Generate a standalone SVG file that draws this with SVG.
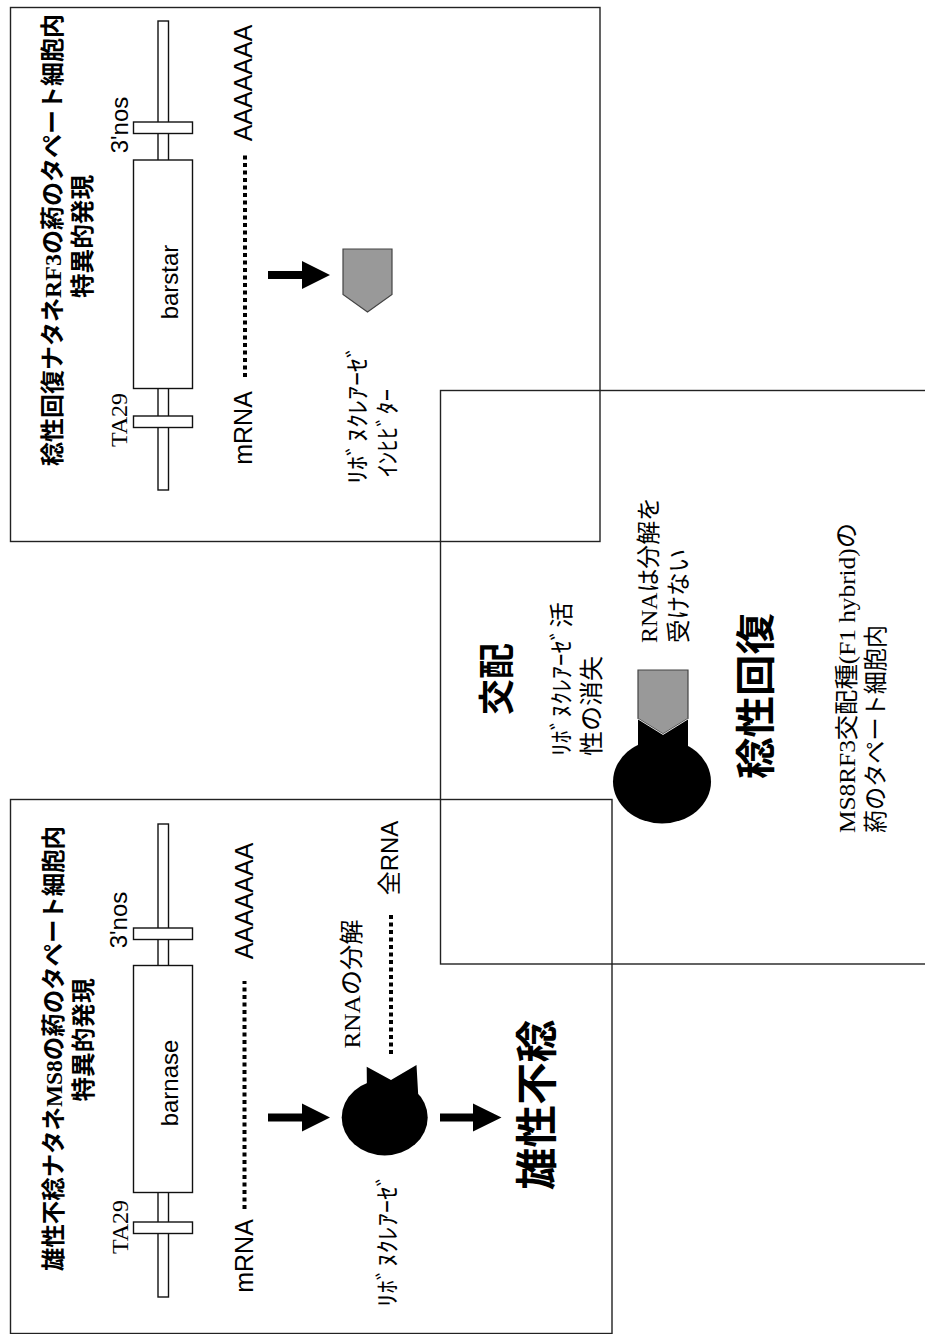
<svg xmlns="http://www.w3.org/2000/svg" width="925" height="1334" viewBox="0 0 925 1334">
<style>
.box{fill:none;stroke:#222;stroke-width:1.4}
.el{fill:#fff;stroke:#111;stroke-width:1.4}
.jp{font-family:"Noto Sans CJK JP",sans-serif;fill:#000;font-size:24px}
.sans{font-family:"Liberation Sans","Noto Sans CJK JP",sans-serif;fill:#000;font-size:24px}
.serif{font-family:"Liberation Serif","Noto Sans CJK JP",serif;fill:#000;font-size:24px}
.b{font-weight:bold}
.m{text-anchor:middle}
.s{text-anchor:start}
.dots{stroke:#000;stroke-width:4;stroke-dasharray:4 3.5;fill:none}
.inh{fill:#999;stroke:#444;stroke-width:1.2}
.blk{fill:#000;stroke:none}
</style>
<rect width="925" height="1334" fill="#fff"/>

<!-- Box A: restorer RF3 -->
<g id="box-rf3">
<rect class="box" x="10.5" y="7.5" width="589.5" height="534"/>
<text class="serif b m" transform="translate(61 240) rotate(-90)" textLength="452" lengthAdjust="spacingAndGlyphs">稔性回復ナタネRF3の葯のタペート細胞内</text>
<text class="jp b m" transform="translate(91 236.5) rotate(-90)" textLength="123" lengthAdjust="spacingAndGlyphs">特異的発現</text>
</g>
<g id="gene-rf3">
<rect class="el" x="158" y="21" width="10.5" height="469"/>
<rect class="el" x="133.5" y="122" width="59" height="11.5"/>
<rect class="el" x="133.5" y="160" width="59" height="228.5"/>
<rect class="el" x="133.5" y="416" width="59" height="11.5"/>
<text class="sans m" transform="translate(128 125) rotate(-90)">3'nos</text>
<text class="serif m" transform="translate(127 420) rotate(-90)">TA29</text>
<text class="sans m" transform="translate(178 282) rotate(-90)">barstar</text>
</g>
<g id="mrna-rf3">
<text class="sans m" transform="translate(252 428) rotate(-90)" style="font-size:25px">mRNA</text>
<line class="dots" x1="245" y1="377" x2="245" y2="152"/>
<text class="sans m" transform="translate(252 83) rotate(-90)" style="font-size:25px">AAAAAAA</text>
</g>
<g id="inhibitor-rf3">
<path class="inh" d="M343,249 H392 V294.5 L367.5,312 L343,294.5 Z"/>
<text class="jp s" transform="translate(366 484) rotate(-90)" textLength="140" lengthAdjust="spacingAndGlyphs">ﾘﾎﾞﾇｸﾚｱｰｾﾞ</text>
<text class="jp s" transform="translate(396 477) rotate(-90)" textLength="88" lengthAdjust="spacingAndGlyphs">ｲﾝﾋﾋﾞﾀｰ</text>
</g>

<!-- Box B: male sterile MS8 -->
<g id="box-ms8">
<rect class="box" x="10.5" y="799.5" width="601.5" height="534"/>
<text class="serif b m" transform="translate(62 1048.5) rotate(-90)" textLength="445" lengthAdjust="spacingAndGlyphs">雄性不稔ナタネMS8の葯のタペート細胞内</text>
<text class="jp b m" transform="translate(92 1040) rotate(-90)" textLength="123" lengthAdjust="spacingAndGlyphs">特異的発現</text>
</g>
<g id="gene-ms8">
<rect class="el" x="158" y="824" width="10.5" height="473"/>
<rect class="el" x="133.5" y="928" width="59" height="11.5"/>
<rect class="el" x="133.5" y="965.5" width="59" height="227"/>
<rect class="el" x="133.5" y="1222" width="59" height="11.5"/>
<text class="sans m" transform="translate(127 920) rotate(-90)">3'nos</text>
<text class="serif m" transform="translate(128 1227) rotate(-90)">TA29</text>
<text class="sans m" transform="translate(178 1083) rotate(-90)">barnase</text>
</g>
<g id="mrna-ms8">
<text class="sans m" transform="translate(252.5 1256) rotate(-90)" style="font-size:25px">mRNA</text>
<line class="dots" x1="244.5" y1="1209" x2="244.5" y2="981"/>
<text class="sans m" transform="translate(252.5 901) rotate(-90)" style="font-size:25px">AAAAAAA</text>
</g>
<g id="rnase-ms8">
<ellipse class="blk" cx="384.7" cy="1117.5" rx="43" ry="38"/>
<polygon class="blk" points="366.7,1066.7 391,1080 416.5,1065 418.5,1100 367,1100"/>
<text class="jp m" transform="translate(396 1240) rotate(-90)" textLength="134" lengthAdjust="spacingAndGlyphs">ﾘﾎﾞﾇｸﾚｱｰｾﾞ</text>
</g>
<g id="rna-degradation">
<text class="serif m" transform="translate(360 984) rotate(-90)" textLength="129" lengthAdjust="spacingAndGlyphs">RNAの分解</text>
<line class="dots" x1="391" y1="1054" x2="391" y2="913.5"/>
<text class="sans m" transform="translate(398 858) rotate(-90)">全RNA</text>
</g>
<g id="male-sterile">
<text class="jp b m" transform="translate(552 1105) rotate(-90)" style="font-size:42px" textLength="170" lengthAdjust="spacingAndGlyphs">雄性不稔</text>
</g>

<!-- Box C: cross F1 hybrid -->
<g id="box-cross">
<rect class="box" x="440.5" y="390.5" width="500" height="573.5"/>
<text class="jp b m" transform="translate(510 679) rotate(-90)" style="font-size:36px">交配</text>
<text class="serif s" transform="translate(855 833) rotate(-90)" textLength="310" lengthAdjust="spacingAndGlyphs">MS8RF3交配種(F1 hybrid)の</text>
<text class="jp s" transform="translate(884 833) rotate(-90)" textLength="208" lengthAdjust="spacingAndGlyphs">葯のタペート細胞内</text>
</g>
<g id="complex">
<ellipse class="blk" cx="662" cy="781.5" rx="49" ry="42"/>
<path class="blk" d="M638,718.5 L663,734 L688,718.5 V755 H638 Z"/>
<path class="inh" d="M638,670 H688 V718.5 L663,734 L638,718.5 Z"/>
<polyline points="638,719 663,734.5 688,719" fill="none" stroke="#ddd" stroke-width="1"/>
<text class="jp s" transform="translate(570 756) rotate(-90)" textLength="154" lengthAdjust="spacingAndGlyphs">ﾘﾎﾞﾇｸﾚｱｰｾﾞ活</text>
<text class="jp s" transform="translate(600 756) rotate(-90)" textLength="100" lengthAdjust="spacingAndGlyphs">性の消失</text>
<text class="serif s" transform="translate(657 643) rotate(-90)" textLength="146" lengthAdjust="spacingAndGlyphs">RNAは分解を</text>
<text class="jp s" transform="translate(687 643) rotate(-90)" textLength="94" lengthAdjust="spacingAndGlyphs">受けない</text>
</g>
<g id="restored">
<text class="jp b m" transform="translate(770 696) rotate(-90)" style="font-size:40px" textLength="166" lengthAdjust="spacingAndGlyphs">稔性回復</text>
</g>

<g id="connectors">
<path class="blk" d="M268,271 H302 V261 L330,275 L302,289 V279 H268 Z"/>
<path class="blk" d="M268,1113.5 H302 V1103.5 L330,1117.5 L302,1131.5 V1121.5 H268 Z"/>
<path class="blk" d="M440,1113.5 H473 V1103.5 L501.5,1117.5 L473,1131.5 V1121.5 H440 Z"/>
</g>
</svg>
